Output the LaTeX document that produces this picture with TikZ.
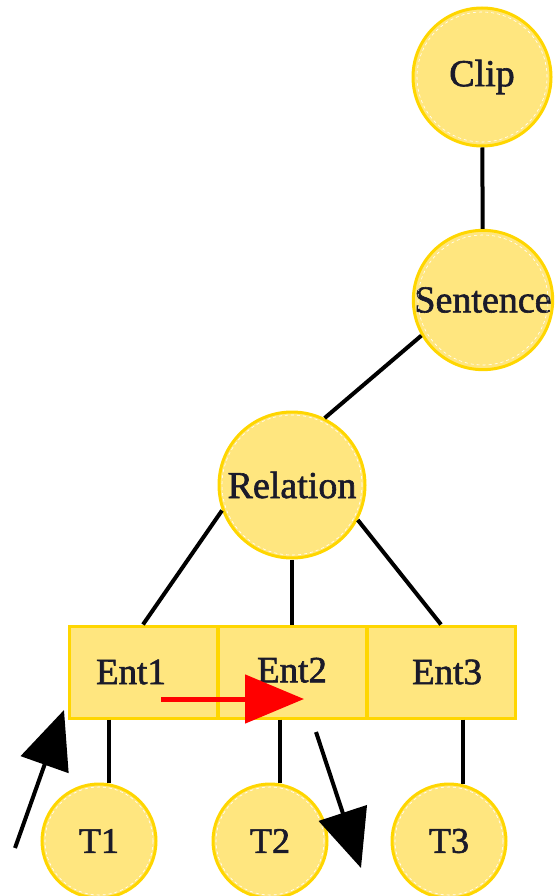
\documentclass[tikz,border=0pt]{standalone}
\usepackage{fontspec}
\setmainfont{Liberation Serif}
\newfontfamily\labelfont{Liberation Serif}[BoldFont={Liberation Serif}, BoldFeatures={FakeBold=1.6}]
\usetikzlibrary{arrows.meta}
\definecolor{nodefill}{HTML}{FFE67F}
\definecolor{nodeedge}{HTML}{FFD600}
\definecolor{labelink}{HTML}{1A1A2A}
\definecolor{arrowred}{HTML}{FF0000}
\tikzset{
  bubble/.style={circle, draw=nodeedge, fill=nodefill, line width=3pt,
    inner sep=0pt, text=labelink, font=\labelfont\bfseries\fontsize{38}{40}\selectfont},
  bigbubble/.style={bubble, minimum size=138pt},
  smallbubble/.style={bubble, minimum size=114pt, font=\labelfont\bfseries\fontsize{36}{38}\selectfont},
  entbox/.style={rectangle, draw=nodeedge, fill=nodefill, line width=3pt,
    minimum width=148pt, minimum height=92pt, inner sep=0pt, text=labelink,
    font=\labelfont\bfseries\fontsize{37}{39}\selectfont},
  link/.style={line width=4pt, black},
  bigarrow/.style={line width=4pt, black, -{Triangle[length=58pt,width=50pt]}},
  redarrow/.style={line width=5pt, arrowred, -{Triangle[length=59pt,width=48pt]}},
  innerring/.style={white, dashed, line width=0.6pt}
}
\begin{document}
\begin{tikzpicture}[x=1pt, y=-1pt]
\useasboundingbox (0,0) rectangle (557,896);

% tree nodes
\node[bigbubble] (clip) at (482,77) {Clip};
\node[bigbubble] (sentence) at (483,300) {Sentence};
\node[bubble, minimum size=146pt] (relation) at (292,485) {Relation};

% entity row (labels nudged within their cells)
\node[entbox] (ent1) at (143,672) {Ent1\hspace*{24pt}};
\node[entbox] (ent2) at (292,672) {\raisebox{4pt}{Ent2}};
\node[entbox] (ent3) at (441,672) {\hspace*{12pt}\raisebox{-3pt}{Ent3}};

% token nodes
\node[smallbubble] (t1) at (99,841) {T1};
\node[smallbubble] (t2) at (270,841) {T2};
\node[smallbubble] (t3) at (449,841) {T3};

% faint dashed rings inside the circles
\foreach \n/\r in {clip/65, sentence/65, relation/70, t1/54, t2/54, t3/54}
  \draw[innerring] (\n.center) circle (\r pt);

% tree edges
\draw[link] (clip) -- (sentence);
\draw[link] (sentence.210) -- (relation.64);
\draw[link] (relation.200) -- (ent1.north);
\draw[link] (relation.south) -- (ent2.north);
\draw[link] (relation.332) -- (ent3.north);
\draw[link] (t1.80 |- ent1.south) -- (t1.80);
\draw[link] (t2.80 |- ent2.south) -- (t2.80);
\draw[link] (t3.76 |- ent3.south) -- (t3.76);

% free arrows
\coordinate (upTail) at (15,848);
\coordinate (upTip) at (64,710);
\coordinate (downTail) at (316,732);
\coordinate (downTip) at (361,868);
\coordinate (redTail) at (161,699);
\coordinate (redTip) at (304,699);
\draw[bigarrow] (upTail) -- (upTip);
\draw[bigarrow] (downTail) -- (downTip);
\draw[redarrow] (redTail) -- (redTip);
\end{tikzpicture}
\end{document}
